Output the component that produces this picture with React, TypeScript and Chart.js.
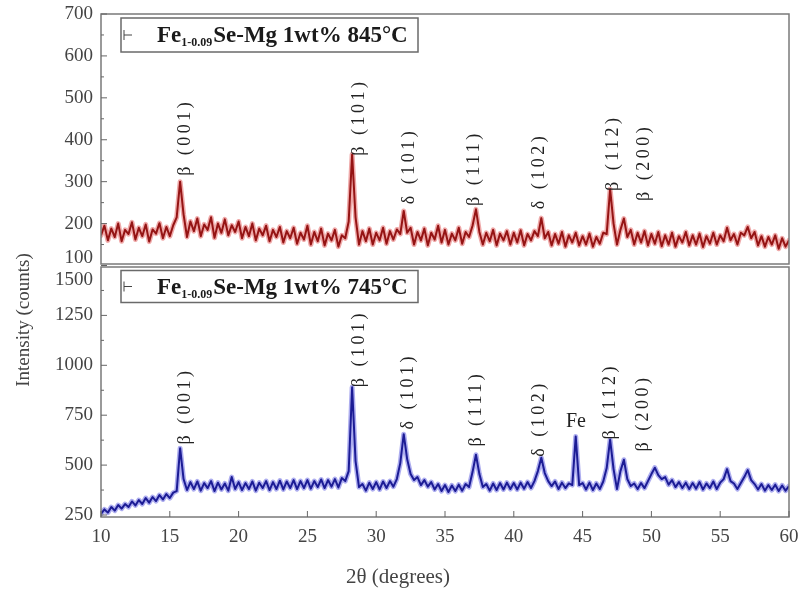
import { useEffect, useRef } from "react";
import { Chart, registerables } from "chart.js";

Chart.register(...registerables);

// 2θ grid: start and step (degrees)
const X_START = 10;
const X_STEP = 0.25;

// Intensity (counts), Fe-Se-Mg 1wt% 845 °C, one value per 0.25° from 10° to 60°
const counts845 = [
  172, 195, 160, 188, 168, 200, 158, 185, 175, 203, 162, 190, 170, 198, 157, 186, 176, 201, 165, 192,
  170, 196, 215, 300, 222, 168, 205, 182, 212, 170, 198, 185, 215, 166, 200, 178, 210, 172, 196, 180,
  205, 165, 192, 170, 200, 160, 188, 172, 195, 158, 185, 168, 192, 155, 182, 165, 190, 152, 178, 162,
  195, 150, 180, 158, 188, 148, 176, 160, 185, 145, 172, 165, 205, 365, 215, 150, 182, 158, 188, 150,
  178, 160, 190, 152, 182, 162, 186, 175, 230, 178, 190, 150, 180, 160, 188, 148, 178, 162, 195, 155,
  185, 150, 176, 160, 190, 152, 180, 168, 195, 234, 180, 150, 178, 158, 185, 148, 176, 160, 182, 150,
  178, 155, 184, 148, 175, 160, 182, 170, 213, 165, 180, 148, 175, 152, 180, 145, 172, 155, 178, 148,
  170, 150, 176, 145, 168, 152, 178, 175, 282, 200, 150, 185, 212, 168, 185, 150, 178, 155, 182, 148,
  175, 152, 180, 146, 172, 150, 178, 145, 170, 155, 180, 148, 172, 150, 176, 144, 170, 152, 178, 150,
  172, 158, 190, 160, 175, 150, 178, 172, 192, 165, 180, 148, 170, 145, 168, 150, 172, 140, 165, 145,
  160,
];

// Intensity (counts), Fe-Se-Mg 1wt% 745 °C
const counts745 = [
  255, 278, 262, 290, 272, 300, 282, 305, 290, 318, 298, 325, 305, 335, 312, 340, 320, 350, 328, 355,
  335, 362, 370, 585, 430, 375, 415, 380, 418, 372, 410, 385, 420, 370, 412, 378, 408, 372, 440, 380,
  415, 375, 410, 380, 418, 372, 412, 385, 420, 375, 415, 380, 422, 378, 418, 385, 425, 380, 420, 385,
  425, 382, 420, 390, 428, 385, 425, 392, 430, 388, 435, 420, 470, 890, 520, 390, 405, 372, 412, 380,
  415, 378, 418, 385, 420, 392, 430, 510, 655, 530, 455, 425, 440, 400, 425, 392, 415, 378, 405, 370,
  400, 365, 398, 370, 402, 372, 405, 390, 465, 552, 455, 390, 405, 372, 408, 375, 410, 378, 412, 380,
  410, 378, 412, 382, 415, 385, 420, 470, 537, 460, 420, 395, 418, 380, 412, 385, 408, 400, 643, 400,
  410, 378, 412, 375, 408, 380, 418, 485, 628, 480, 380, 470, 527, 430, 395, 408, 380, 410, 385, 420,
  455, 487, 450, 430, 440, 402, 425, 390, 415, 385, 412, 380, 410, 382, 415, 378, 408, 385, 418, 380,
  412, 430, 480, 420, 408, 380, 410, 440, 475, 425, 405, 378, 405, 372, 400, 375, 402, 370, 398, 372,
  395,
];

const xTicks = [10, 15, 20, 25, 30, 35, 40, 45, 50, 55, 60];
const yTicks845 = [100, 200, 300, 400, 500, 600, 700];
const yTicks745 = [250, 500, 750, 1000, 1250, 1500];

// Peak labels (text, 2θ position, intensity at the label's lower end)
const peakText845 = ["β (001)", "β (101)", "δ (101)", "β (111)", "δ (102)", "β (112)", "β (200)"];
const peakX845 = [16.1, 28.75, 32.4, 37.1, 41.85, 47.25, 49.45];
const peakY845 = [314, 362, 246, 242, 234, 278, 254];

const peakText745 = ["β (001)", "β (101)", "δ (101)", "β (111)", "δ (102)", "β (112)", "β (200)"];
const peakX745 = [16.1, 28.8, 32.3, 37.3, 41.85, 47.0, 49.4];
const peakY745 = [603, 890, 678, 593, 542, 628, 568];

const feText = "Fe";
const feX = 44.52;
const feY = 719;

const legendSub = "1-0.09";
const legend845 = "Se-Mg 1wt% 845°C";
const legend745 = "Se-Mg 1wt% 745°C";

const SERIF = '"Liberation Serif", "Times New Roman", serif';

export default function App() {
  const ref = useRef<HTMLCanvasElement | null>(null);

  useEffect(() => {
    const canvas = ref.current;
    if (!canvas) return;

    const pts845 = counts845.map((y, i) => ({ x: X_START + i * X_STEP, y }));
    const pts745 = counts745.map((y, i) => ({ x: X_START + i * X_STEP, y }));

    const decor = {
      id: "decor",
      afterDraw(chart: any) {
        const ctx = chart.ctx as CanvasRenderingContext2D;
        const xS = chart.scales.x;
        const yT = chart.scales.yTop;
        const yB = chart.scales.yBot;
        const L = chart.chartArea.left;
        const R = chart.chartArea.right;
        ctx.save();

        // panel frames
        ctx.strokeStyle = "#7a7a7a";
        ctx.lineWidth = 1.5;
        ctx.strokeRect(L, yT.top, R - L, yT.bottom - yT.top - 1.5);
        ctx.strokeRect(L, yB.top + 1.5, R - L, yB.bottom - yB.top - 1.5);

        // y ticks (inside)
        ctx.strokeStyle = "#666";
        ctx.lineWidth = 1;
        const yTickDraw = (s: any, ticks: number[]) => {
          for (let k = 0; k < ticks.length; k++) {
            const p = s.getPixelForValue(ticks[k]);
            ctx.beginPath();
            ctx.moveTo(L, p);
            ctx.lineTo(L + 6, p);
            ctx.stroke();
            if (k < ticks.length - 1) {
              const m = s.getPixelForValue((ticks[k] + ticks[k + 1]) / 2);
              ctx.beginPath();
              ctx.moveTo(L, m);
              ctx.lineTo(L + 3, m);
              ctx.stroke();
            }
          }
        };
        yTickDraw(yT, yTicks845);
        yTickDraw(yB, yTicks745);

        // x ticks (inside, bottom panel)
        for (const v of xTicks) {
          const p = xS.getPixelForValue(v);
          ctx.beginPath();
          ctx.moveTo(p, yB.bottom);
          ctx.lineTo(p, yB.bottom - 6);
          ctx.stroke();
        }

        // tick labels
        ctx.fillStyle = "#444";
        ctx.font = `19px ${SERIF}`;
        ctx.textAlign = "right";
        ctx.textBaseline = "middle";
        for (const v of yTicks845) {
          let p = yT.getPixelForValue(v);
          if (v === yTicks845[0]) p -= 7;
          ctx.fillText(String(v), L - 8, p);
        }
        for (const v of yTicks745) {
          let p = yB.getPixelForValue(v);
          if (v === yTicks745[yTicks745.length - 1]) p += 15;
          ctx.fillText(String(v), L - 8, p);
        }
        ctx.textAlign = "center";
        for (const v of xTicks) {
          ctx.fillText(String(v), xS.getPixelForValue(v), yB.bottom + 20);
        }

        // axis titles
        ctx.font = `21px ${SERIF}`;
        ctx.fillText("2θ (degrees)", 398, 577);
        ctx.font = `19px ${SERIF}`;
        ctx.save();
        ctx.translate(24, 320);
        ctx.rotate(-Math.PI / 2);
        ctx.fillText("Intensity (counts)", 0, 0);
        ctx.restore();

        // peak labels
        ctx.fillStyle = "#222";
        ctx.font = `18px ${SERIF}`;
        (ctx as any).letterSpacing = "3.5px";
        const drawPeaks = (s: any, txt: string[], xs: number[], ys: number[]) => {
          for (let k = 0; k < txt.length; k++) {
            const px = xS.getPixelForValue(xs[k]);
            const py = s.getPixelForValue(ys[k]);
            ctx.save();
            ctx.translate(px, py);
            ctx.rotate(-Math.PI / 2);
            ctx.textAlign = "left";
            ctx.textBaseline = "middle";
            ctx.fillText(txt[k], 0, 0);
            ctx.restore();
          }
        };
        drawPeaks(yT, peakText845, peakX845, peakY845);
        drawPeaks(yB, peakText745, peakX745, peakY745);
        (ctx as any).letterSpacing = "0px";
        ctx.font = `20px ${SERIF}`;
        ctx.textAlign = "center";
        ctx.textBaseline = "middle";
        ctx.fillText(feText, xS.getPixelForValue(feX), yB.getPixelForValue(feY));

        // legend boxes
        const legend = (top: number, h: number, rest: string) => {
          const x0 = L + 20;
          const x1 = 418;
          ctx.strokeStyle = "#6a6a6a";
          ctx.lineWidth = 1.5;
          ctx.strokeRect(x0, top, x1 - x0, h);
          const cy = top + h / 2;
          ctx.strokeStyle = "#444";
          ctx.lineWidth = 1;
          ctx.beginPath();
          ctx.moveTo(x0 + 3, cy);
          ctx.lineTo(x0 + 11, cy);
          ctx.moveTo(x0 + 3, cy - 5);
          ctx.lineTo(x0 + 3, cy + 5);
          ctx.stroke();
          ctx.fillStyle = "#1a1a1a";
          ctx.textAlign = "left";
          ctx.textBaseline = "alphabetic";
          let tx = 157;
          const base = cy + 7;
          ctx.font = `bold 23px ${SERIF}`;
          ctx.fillText("Fe", tx, base);
          tx += ctx.measureText("Fe").width;
          ctx.font = `bold 12px ${SERIF}`;
          ctx.fillText(legendSub, tx, base + 4);
          tx += ctx.measureText(legendSub).width + 1;
          ctx.font = `bold 23px ${SERIF}`;
          ctx.fillText(rest, tx, base);
        };
        legend(yT.top + 4, 34, legend845);
        legend(yB.top + 5, 32, legend745);

        ctx.restore();
      },
    };

    const halo = { borderWidth: 5, pointRadius: 0, tension: 0, borderJoinStyle: "round", borderCapStyle: "round" };
    const core = { borderWidth: 2, pointRadius: 0, tension: 0, borderJoinStyle: "round" };

    const chart = new Chart(canvas, {
      type: "line",
      data: {
        datasets: [
          { label: "845 halo", data: pts845, yAxisID: "yTop", borderColor: "rgba(215,40,40,0.4)", ...halo },
          { label: "845", data: pts845, yAxisID: "yTop", borderColor: "#6a0707", ...core },
          { label: "745 halo", data: pts745, yAxisID: "yBot", borderColor: "rgba(50,50,215,0.4)", ...halo },
          { label: "745", data: pts745, yAxisID: "yBot", borderColor: "#0e0e6a", ...core },
        ],
      },
      options: {
        responsive: false,
        animation: false,
        events: [],
        layout: { padding: { left: 0, right: 9, top: 14, bottom: 0 } },
        plugins: { legend: { display: false }, tooltip: { enabled: false } },
        scales: {
          x: {
            type: "linear",
            min: 10,
            max: 60,
            afterBuildTicks: (s: any) => {
              s.ticks = xTicks.map((v) => ({ value: v }));
            },
            afterFit: (s: any) => {
              s.height = 77;
            },
            ticks: { display: false },
            grid: { display: false },
            border: { display: false },
          },
          yBot: {
            type: "linear",
            position: "left",
            stack: "panels",
            stackWeight: 1,
            min: 240,
            max: 1500,
            afterBuildTicks: (s: any) => {
              s.ticks = yTicks745.map((v) => ({ value: v }));
            },
            afterFit: (s: any) => {
              s.width = 101;
            },
            ticks: { display: false },
            grid: { display: false },
            border: { display: false },
          },
          yTop: {
            type: "linear",
            position: "left",
            stack: "panels",
            stackWeight: 1,
            min: 100,
            max: 700,
            afterBuildTicks: (s: any) => {
              s.ticks = yTicks845.map((v) => ({ value: v }));
            },
            afterFit: (s: any) => {
              s.width = 101;
            },
            ticks: { display: false },
            grid: { display: false },
            border: { display: false },
          },
        },
      },
      plugins: [decor],
    } as any);

    return () => chart.destroy();
  }, []);

  return (
    <div style={{ position: "fixed", left: 0, top: 0, width: 798, height: 594, background: "#fff" }}>
      <canvas ref={ref} width={798} height={594} style={{ display: "block" }} />
    </div>
  );
}
